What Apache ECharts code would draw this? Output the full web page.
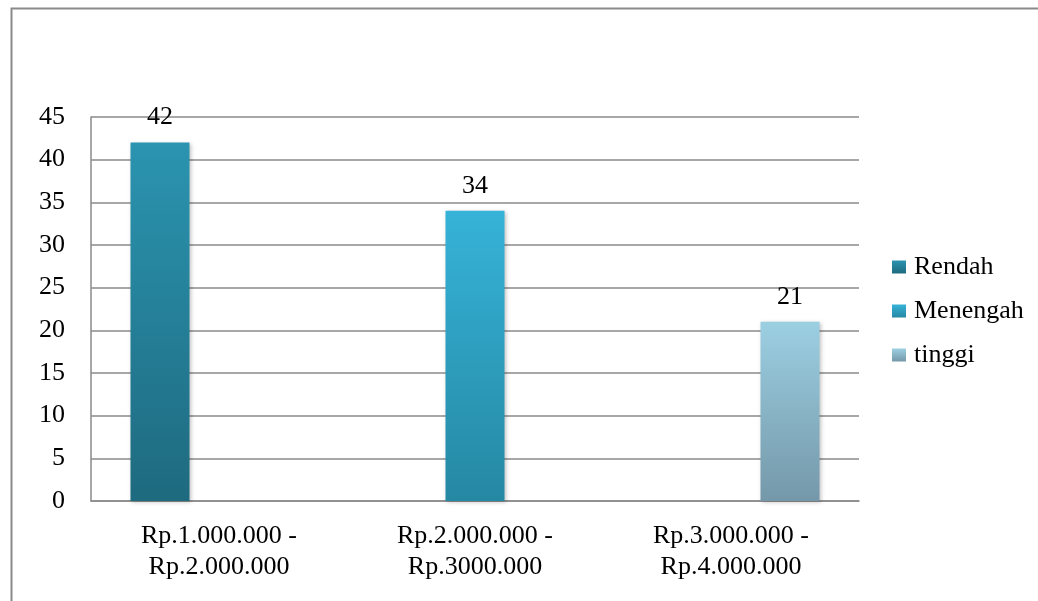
<!DOCTYPE html>
<html>
<head>
<meta charset="utf-8">
<script src="https://cdn.jsdelivr.net/npm/echarts@6/dist/echarts.min.js"></script>
<style>
html,body{margin:0;padding:0;background:#fff;}
#chart{width:1038px;height:601px;}
</style>
</head>
<body>
<div id="chart"></div>
<script>
const categories = ['Rp.1.000.000 -\nRp.2.000.000', 'Rp.2.000.000 -\nRp.3000.000', 'Rp.3.000.000 -\nRp.4.000.000'];
const seriesNames = ['Rendah', 'Menengah', 'tinggi'];
const rendah = [42, '-', '-'];
const menengah = ['-', 34, '-'];
const tinggi = ['-', '-', 21];
const yTicks = { min: 0, max: 45, interval: 5 };

const font = '"Liberation Serif", "DejaVu Serif", serif';
function grad(top, bottom) {
  return new echarts.graphic.LinearGradient(0, 0, 0, 1, [
    { offset: 0, color: top }, { offset: 1, color: bottom }
  ]);
}
const colors = [grad('#2b94b0', '#1e6a7f'), grad('#36b3d8', '#2588a3'), grad('#9ccfe2', '#7498a9')];
const dataSets = [rendah, menengah, tinggi];

const chart = echarts.init(document.getElementById('chart'));
chart.setOption({
  animation: false,
  backgroundColor: '#fff',
  graphic: [{
    type: 'rect', left: 9, top: 6,
    shape: { width: 1100, height: 700 },
    style: { fill: 'none', stroke: '#8a8a8a', lineWidth: 2 },
    silent: true, z: -1
  }],
  grid: { left: 91, top: 117, right: 179, bottom: 100, containLabel: false },
  legend: {
    orient: 'vertical', left: 887, top: 249,
    itemWidth: 14, itemHeight: 13, itemGap: 18,
    icon: 'rect',
    textStyle: { fontFamily: font, fontSize: 26, color: '#000', lineHeight: 26, padding: [0, 0, 0, 3] },
    data: seriesNames
  },
  xAxis: {
    type: 'category', data: categories,
    axisLine: { show: true, lineStyle: { color: '#8a8a8a', width: 1.5 } },
    axisTick: { show: false },
    axisLabel: { fontFamily: font, fontSize: 26, color: '#000', lineHeight: 31, margin: 20, interval: 0 }
  },
  yAxis: {
    type: 'value', min: yTicks.min, max: yTicks.max, interval: yTicks.interval,
    axisLine: { show: true, lineStyle: { color: '#8a8a8a', width: 1.5 } },
    axisTick: { show: false },
    splitLine: { show: true, lineStyle: { color: '#8a8a8a', width: 1.5 } },
    axisLabel: { fontFamily: font, fontSize: 26, color: '#000', margin: 26 }
  },
  series: seriesNames.map((name, i) => ({
    name, type: 'bar', data: dataSets[i],
    barWidth: 59, barGap: '0%',
    itemStyle: {
      color: colors[i],
      shadowBlur: 4, shadowColor: 'rgba(0,0,0,0.25)', shadowOffsetX: 1, shadowOffsetY: 1
    },
    label: { show: true, position: 'top', distance: 12, fontFamily: font, fontSize: 26, color: '#000' }
  }))
});
</script>
</body>
</html>
